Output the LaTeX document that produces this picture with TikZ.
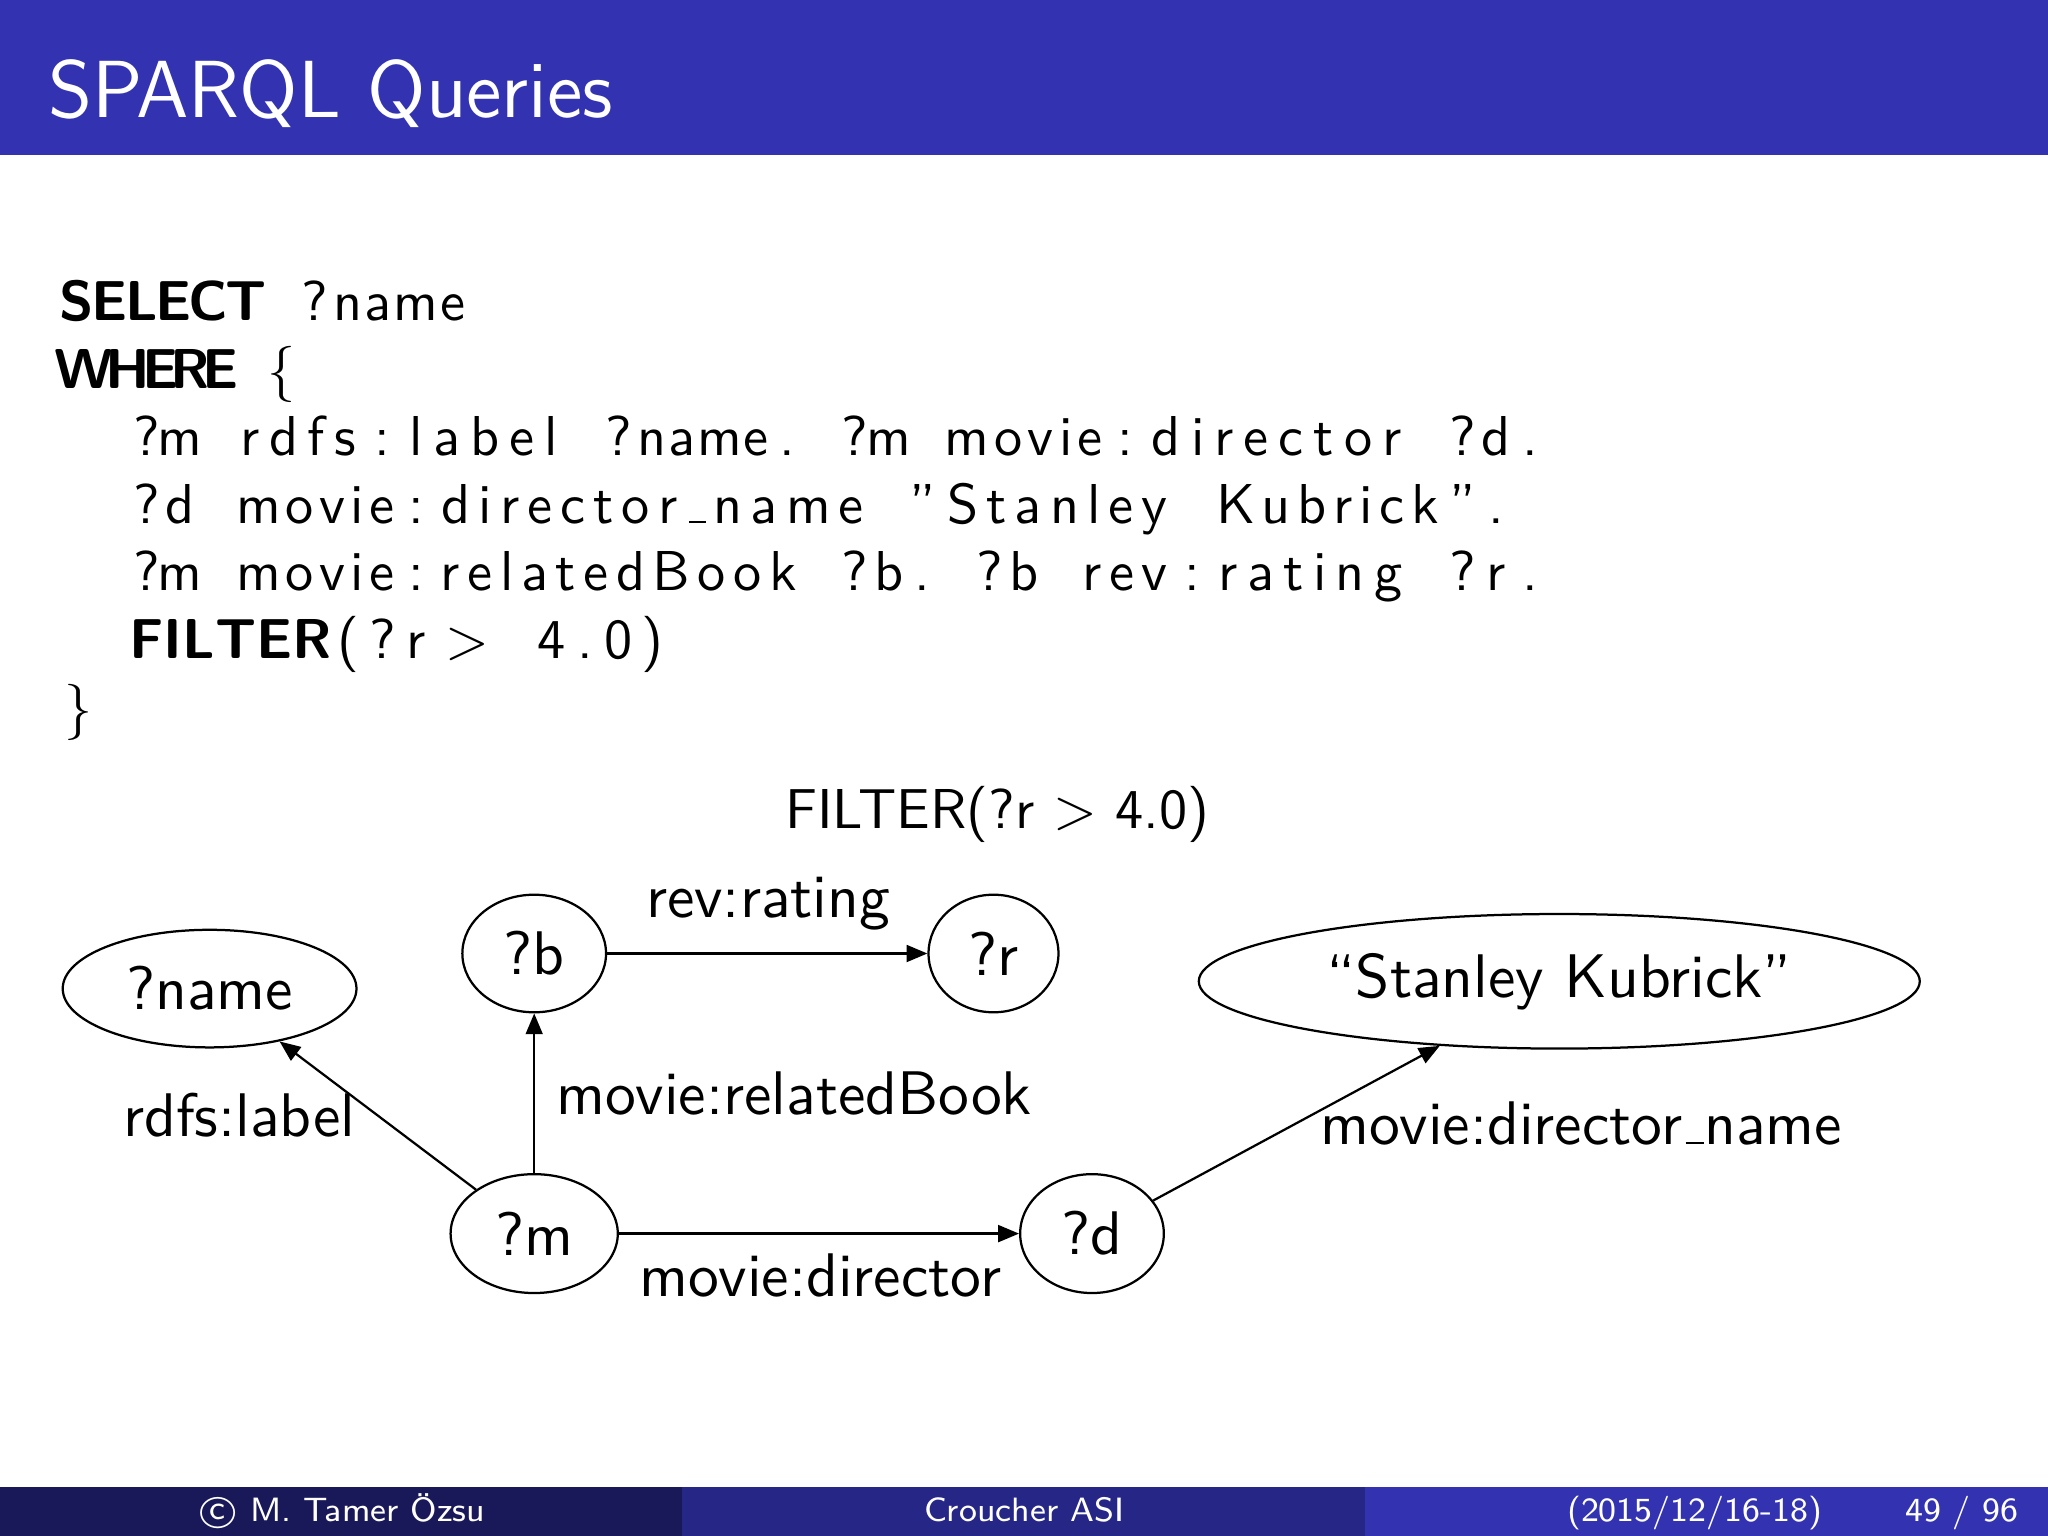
\documentclass[tikz,border=0pt]{standalone}
\usetikzlibrary{shapes.geometric,arrows.meta}
\definecolor{structblue}{rgb}{0.2,0.2,0.7}

% fixed columns for the query text
\newlength\colw
\setlength\colw{6pt}
\newcommand\usc{\leavevmode\kern.06em\vbox{\hrule width.3em}}
\makeatletter
\newcount\cl@n
\newtoks\cl@toks
\newif\ifcl@let
\def\cl@end{\cl@end}
\def\cl@flush{%
  \ifnum\cl@n>\z@%
    \hbox to\cl@n\colw{\hss\the\cl@toks}%
    \global\cl@n\z@%
    \global\cl@toks{}%
  \fi}
\def\cl@scan#1{%
  \ifx#1\cl@end
    \cl@flush
  \else
    \cl@letfalse
    \ifcat a\noexpand#1\cl@lettrue\fi
    \ifx#1\usc\cl@lettrue\fi
    \ifcl@let
      \global\advance\cl@n\@ne
      \global\cl@toks\expandafter{\the\cl@toks#1\hss}%
    \else
      \cl@flush\hbox to\colw{\hss#1\hss}%
    \fi
    \expandafter\cl@scan
  \fi}
\newcommand\codeline[1]{\cl@scan#1\cl@end}
\makeatother
\newcommand\kw[1]{{\bfseries\codeline{#1}}}
\newcommand\codelb{$\{$}
\newcommand\coderb{$\}$}
\newcommand\codegt{\hbox to2\colw{\hss$>$\hss}}
\newcommand\copysign{\ooalign{\hfil\raise.07ex\hbox{c}\hfil\crcr$\bigcirc$}}

\tikzset{
  var/.style={draw, ellipse, inner sep=1pt},
  lbl/.style={anchor=base west, inner sep=0pt},
  codeln/.style={anchor=base west, inner sep=0pt, font=\sffamily\fontsize{10}{12}\selectfont},
  foot/.style={inner sep=0pt, text=white, font=\sffamily\fontsize{6}{7}\selectfont},
  rel/.style={-{Triangle[length=3.7pt,width=3pt]}},
}

\begin{document}
\begin{tikzpicture}[x=0.0625mm, y=-0.0625mm, font=\sffamily\fontsize{10.95}{13.6}\selectfont]
    \useasboundingbox (0,0) rectangle (2048,1536);
    \fill[white] (0,0) rectangle (2048,1536);
    % title bar
    \fill[structblue] (0,0) rectangle (2048,155);
    \node[anchor=base west, inner sep=0pt, text=white, font=\sffamily\fontsize{14.4}{17}\selectfont] (title) at (47.5,117.5) {SPARQL Queries};
    % query
    \node[codeln] (sel) at (61,320.7) {\kw{SELECT}\codeline{~?name}};
    \node[codeln] (whr) at (61,388.2) {\kw{WHERE}\codeline{~\codelb}};
    \node[codeln] (tpa) at (61,455.7) {\codeline{~~?m~rdfs:label~?name.~?m~movie:director~?d.}};
    \node[codeln] (tpb) at (61,523.2) {\codeline{~~?d~movie:director\usc name~\textquotedblright Stanley~Kubrick\textquotedblright.}};
    \node[codeln] (tpc) at (61,590.7) {\codeline{~~?m~movie:relatedBook~?b.~?b~rev:rating~?r.}};
    \node[codeln] (flt) at (61,658.2) {\codeline{~~}\kw{FILTER}\codeline{(?r}\codegt\codeline{~4.0)}};
    \node[codeln] (cls) at (61,726) {\codeline{\coderb}};
    % query graph
    \node[var, minimum width=18.36mm, minimum height=7.35mm] (name) at (209.6,988.6) {?name};
    \node[var, minimum width=8.98mm, minimum height=7.35mm] (b) at (534.2,953.5) {?b};
    \node[var, minimum width=8.12mm, minimum height=7.35mm] (r) at (993.5,953.5) {?r};
    \node[var, minimum width=10.45mm, minimum height=7.43mm] (m) at (534.2,1233.6) {?m};
    \node[var, minimum width=8.98mm, minimum height=7.43mm] (d) at (1092,1233.6) {?d};
    \node[var, minimum width=45.06mm, minimum height=8.41mm] (sk) at (1559.3,981.3) {“Stanley Kubrick”};
    \node[lbl, font=\sffamily\fontsize{10}{12}\selectfont] (lfilter) at (784,828) {FILTER(?r $>$ 4.0)};
    \node[lbl] (lrating) at (645,917) {rev:rating};
    \node[lbl] (lbook) at (555,1114) {movie:relatedBook};
    \node[lbl] (llabel) at (122,1136) {rdfs:label};
    \node[lbl] (ldir) at (638,1296) {movie:director};
    \node[lbl] (ldname) at (1319,1144) {movie:director\usc name};
    \draw[rel] (m) -- (name);
    \draw[rel] (m) -- (b);
    \draw[rel] (b) -- (r);
    \draw[rel] (m) -- (d);
    \draw[rel] (d) -- (sk);
    % footline
    \fill[structblue!50!black] (0,1487) rectangle (682,1536);
    \fill[structblue!75!black] (682,1487) rectangle (1365,1536);
    \fill[structblue] (1365,1487) rectangle (2048,1536);
    \node[foot, anchor=base] (author) at (341,1521) {\copysign\ M. Tamer Özsu};
    \node[foot, anchor=base] (inst) at (1024,1521) {Croucher ASI};
    \node[foot, anchor=base west] (date) at (1566,1521) {(2015/12/16-18)};
    \node[foot, anchor=base west] (page) at (1904,1521) {49 / 96};
\end{tikzpicture}
\end{document}
